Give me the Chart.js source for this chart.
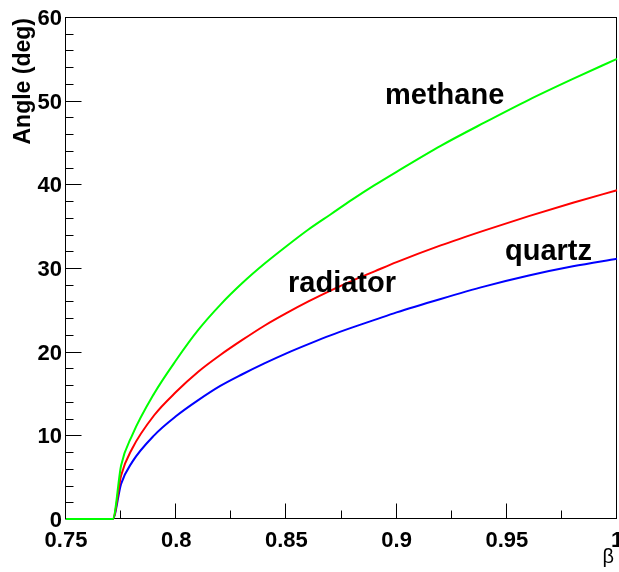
<!DOCTYPE html>
<html>
<head>
<meta charset="utf-8">
<script src="https://cdn.jsdelivr.net/npm/chart.js@4/dist/chart.umd.min.js"></script>
<style>
  html, body { margin: 0; padding: 0; background: #fff; }
  canvas { display: block; }
</style>
</head>
<body>
<canvas id="angleChart" width="619" height="572"></canvas>
<script>
"use strict";

// beta values (x) and angle readings (deg) for each radiator
const betaValues     = [0.75, 0.7712, 0.775, 0.78, 0.79, 0.80, 0.81, 0.82, 0.83, 0.84, 0.85, 0.86, 0.87, 0.88, 0.89, 0.90, 0.92, 0.94, 0.96, 0.98, 1.00];
const methaneAngles  = [0, 0, 6.4, 10.0, 15.0, 19.0, 22.6, 25.6, 28.2, 30.5, 32.6, 34.6, 36.4, 38.2, 39.9, 41.5, 44.6, 47.4, 50.1, 52.6, 55.0];
const radiatorAngles = [0, 0, 5.2, 8.4, 12.4, 15.2, 17.6, 19.6, 21.4, 23.1, 24.6, 26.0, 27.3, 28.5, 29.6, 30.7, 32.7, 34.5, 36.2, 37.8, 39.3];
const quartzAngles   = [0, 0, 4.2, 6.8, 10.0, 12.3, 14.2, 15.9, 17.3, 18.6, 19.8, 20.9, 21.95, 22.9, 23.8, 24.7, 26.3, 27.8, 29.1, 30.2, 31.1];

// axis ticks
const xMajorTicks = [0.75, 0.8, 0.85, 0.9, 0.95, 1.0];
const xTickLabels = ["0.75", "0.8", "0.85", "0.9", "0.95", "1"];
const xMinorTicks = [0.775, 0.825, 0.875, 0.925, 0.975];
const yMajorTicks = [0, 10, 20, 30, 40, 50, 60];
const yTickLabels = ["0", "10", "20", "30", "40", "50", "60"];
const yMinorTicks = [2, 4, 6, 8, 12, 14, 16, 18, 22, 24, 26, 28, 32, 34, 36, 38, 42, 44, 46, 48, 52, 54, 56, 58];

// text labels placed in the plot
const curveLabels = [
  { text: "methane", x: 385, y: 104 },
  { text: "radiator", x: 288, y: 292 },
  { text: "quartz", x: 505, y: 260 }
];

function toPoints(values) {
  return betaValues.map((b, i) => ({ x: b, y: values[i] }));
}

const FONT = "'Liberation Sans', Arial, Helvetica, sans-serif";

// frame and inward ticks go under the curves, like ROOT draws them
const rootFrame = {
  id: "rootFrame",
  beforeDatasetsDraw(chart) {
    const { ctx, chartArea: a, scales } = chart;
    const xs = scales.x;
    const ys = scales.y;
    const L = Math.round(a.left) - 0.5;
    const R = Math.round(a.right) - 0.5;
    const T = Math.round(a.top) + 0.5;
    const B = Math.round(a.bottom) - 0.5;

    ctx.save();
    ctx.strokeStyle = "#000";
    ctx.lineWidth = 1;
    ctx.strokeRect(L, T, R - L, B - T);

    ctx.beginPath();
    xMajorTicks.forEach((v) => {
      const px = Math.round(xs.getPixelForValue(v)) - 0.5;
      ctx.moveTo(px, B);
      ctx.lineTo(px, B - 15);
    });
    xMinorTicks.forEach((v) => {
      const px = Math.round(xs.getPixelForValue(v)) - 0.5;
      ctx.moveTo(px, B);
      ctx.lineTo(px, B - 8);
    });
    yMajorTicks.forEach((v) => {
      const py = Math.round(ys.getPixelForValue(v)) + 0.5;
      ctx.moveTo(L, py);
      ctx.lineTo(L + 16, py);
    });
    yMinorTicks.forEach((v) => {
      const py = Math.round(ys.getPixelForValue(v)) + 0.5;
      ctx.moveTo(L, py);
      ctx.lineTo(L + 8, py);
    });
    ctx.stroke();
    ctx.restore();
  },
  // tick labels, titles and curve names
  afterDraw(chart) {
    const { ctx, chartArea: a, scales } = chart;
    const xs = scales.x;
    const ys = scales.y;

    ctx.save();
    ctx.fillStyle = "#000";
    ctx.font = "bold 22px " + FONT;
    ctx.textBaseline = "alphabetic";
    ctx.textAlign = "center";
    xMajorTicks.forEach((v, i) => {
      ctx.fillText(xTickLabels[i], xs.getPixelForValue(v), a.bottom + 28);
    });
    ctx.textAlign = "right";
    yMajorTicks.forEach((v, i) => {
      ctx.fillText(yTickLabels[i], a.left - 4, ys.getPixelForValue(v) + 8);
    });

    ctx.font = "20px " + FONT;
    ctx.textAlign = "right";
    ctx.fillText("\u03b2", a.right - 3, a.bottom + 44);

    ctx.save();
    ctx.translate(30, a.top + 1);
    ctx.rotate(-Math.PI / 2);
    ctx.font = "bold 23px " + FONT;
    ctx.textAlign = "right";
    ctx.fillText("Angle (deg)", 0, 0);
    ctx.restore();

    ctx.font = "bold 29px " + FONT;
    ctx.textAlign = "left";
    curveLabels.forEach((lbl) => ctx.fillText(lbl.text, lbl.x, lbl.y));
    ctx.restore();
  }
};

const lineStyle = {
  borderWidth: 2,
  pointRadius: 0,
  fill: false,
  clip: 4,
  cubicInterpolationMode: "monotone"
};

new Chart(document.getElementById("angleChart").getContext("2d"), {
  type: "line",
  data: {
    datasets: [
      { label: "methane", data: toPoints(methaneAngles), borderColor: "#00ff00", ...lineStyle },
      { label: "radiator", data: toPoints(radiatorAngles), borderColor: "#ff0000", ...lineStyle },
      { label: "quartz", data: toPoints(quartzAngles), borderColor: "#0000ff", ...lineStyle }
    ]
  },
  options: {
    responsive: false,
    animation: false,
    layout: { padding: { left: 66, right: 2, top: 17, bottom: 53 } },
    plugins: {
      legend: { display: false },
      tooltip: { enabled: false }
    },
    scales: {
      x: { type: "linear", min: 0.75, max: 1.0, display: false },
      y: { type: "linear", min: 0, max: 60, display: false }
    }
  },
  plugins: [rootFrame]
});
</script>
</body>
</html>
